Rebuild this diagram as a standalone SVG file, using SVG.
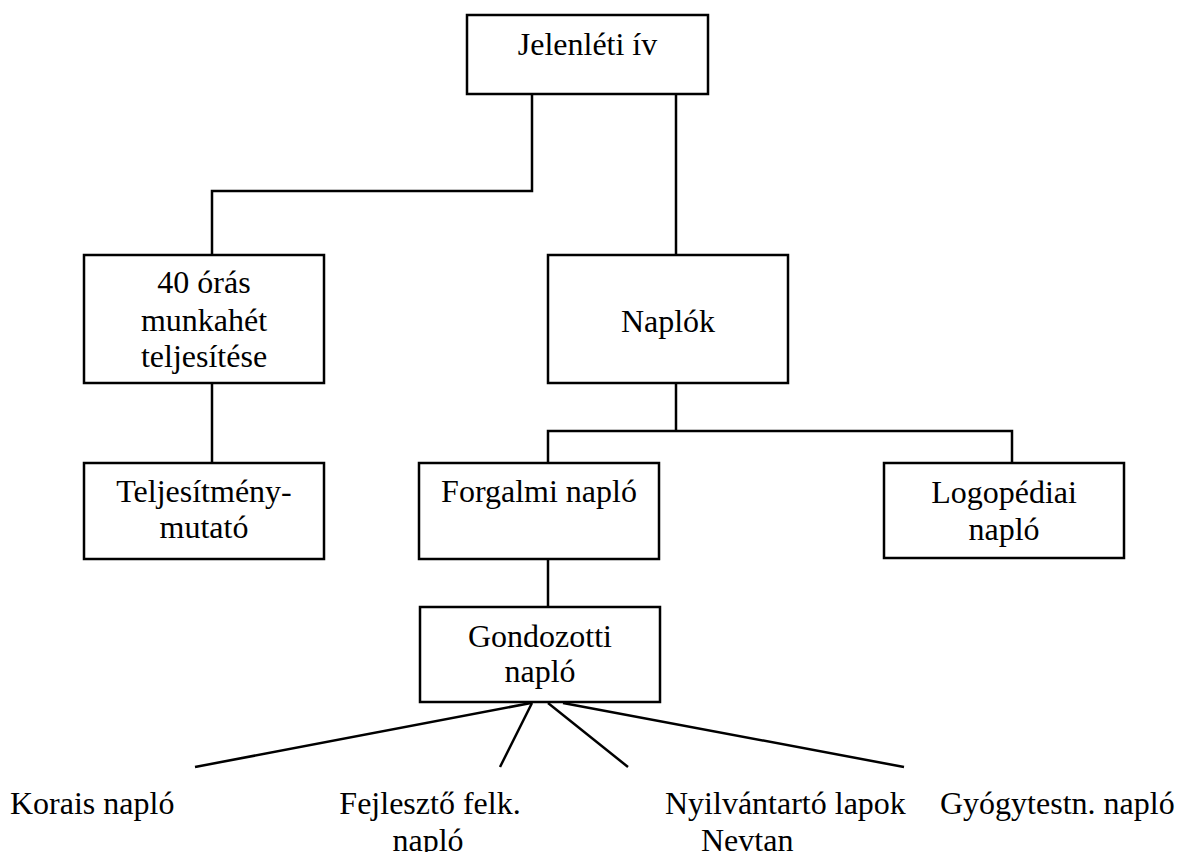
<svg xmlns="http://www.w3.org/2000/svg" width="1183" height="852" viewBox="0 0 1183 852">
<style>
.box{fill:#fff;stroke:#000;stroke-width:2.5}
.c{fill:none;stroke:#000;stroke-width:2.5}
text{font-family:"Liberation Serif","Times New Roman",serif;font-size:32px;fill:#000}
.m{text-anchor:middle}
</style>
<rect width="1183" height="852" fill="#fff"/>
<g id="connectors">
<polyline class="c" points="532,94 532,191 212,191 212,255"/>
<line class="c" x1="676" y1="94" x2="676" y2="255"/>
<line class="c" x1="212" y1="383" x2="212" y2="463"/>
<polyline class="c" points="676,383 676,431"/>
<polyline class="c" points="548,463 548,431 1012,431 1012,463"/>
<line class="c" x1="548" y1="559" x2="548" y2="607"/>
<line class="c" x1="531" y1="703" x2="195" y2="767"/>
<line class="c" x1="532" y1="703" x2="500" y2="767"/>
<line class="c" x1="548" y1="703" x2="628" y2="767"/>
<line class="c" x1="563" y1="703" x2="904" y2="767"/>
</g>
<g id="jelenleti"><rect class="box" x="467" y="15" width="241" height="79"/><text class="m" x="587.5" y="55">Jelenléti ív</text></g>
<g id="oras"><rect class="box" x="84" y="255" width="240" height="128"/><text class="m" x="204" y="293">40 órás</text><text class="m" x="204" y="331">munkahét</text><text class="m" x="204" y="367">teljesítése</text></g>
<g id="naplok"><rect class="box" x="548" y="255" width="240" height="128"/><text class="m" x="668" y="332">Naplók</text></g>
<g id="teljesitmeny"><rect class="box" x="84" y="463" width="240" height="96"/><text class="m" x="204" y="502">Teljesítmény-</text><text class="m" x="204" y="538">mutató</text></g>
<g id="forgalmi"><rect class="box" x="419" y="463" width="240" height="96"/><text class="m" x="539" y="502">Forgalmi napló</text></g>
<g id="logopediai"><rect class="box" x="884" y="463" width="240" height="95"/><text class="m" x="1004" y="503">Logopédiai</text><text class="m" x="1004" y="540">napló</text></g>
<g id="gondozotti"><rect class="box" x="420" y="607" width="240" height="95"/><text class="m" x="540" y="647">Gondozotti</text><text class="m" x="540" y="682">napló</text></g>
<g id="korais"><text x="10" y="814">Korais napló</text></g>
<g id="fejleszto"><text class="m" x="430" y="814">Fejlesztő felk.</text><text class="m" x="428" y="851">napló</text></g>
<g id="nyilvantarto"><text x="665" y="814">Nyilvántartó lapok</text><text x="701" y="851">Nevtan</text></g>
<g id="gyogytestn"><text x="940" y="814">Gyógytestn. napló</text></g>
</svg>
